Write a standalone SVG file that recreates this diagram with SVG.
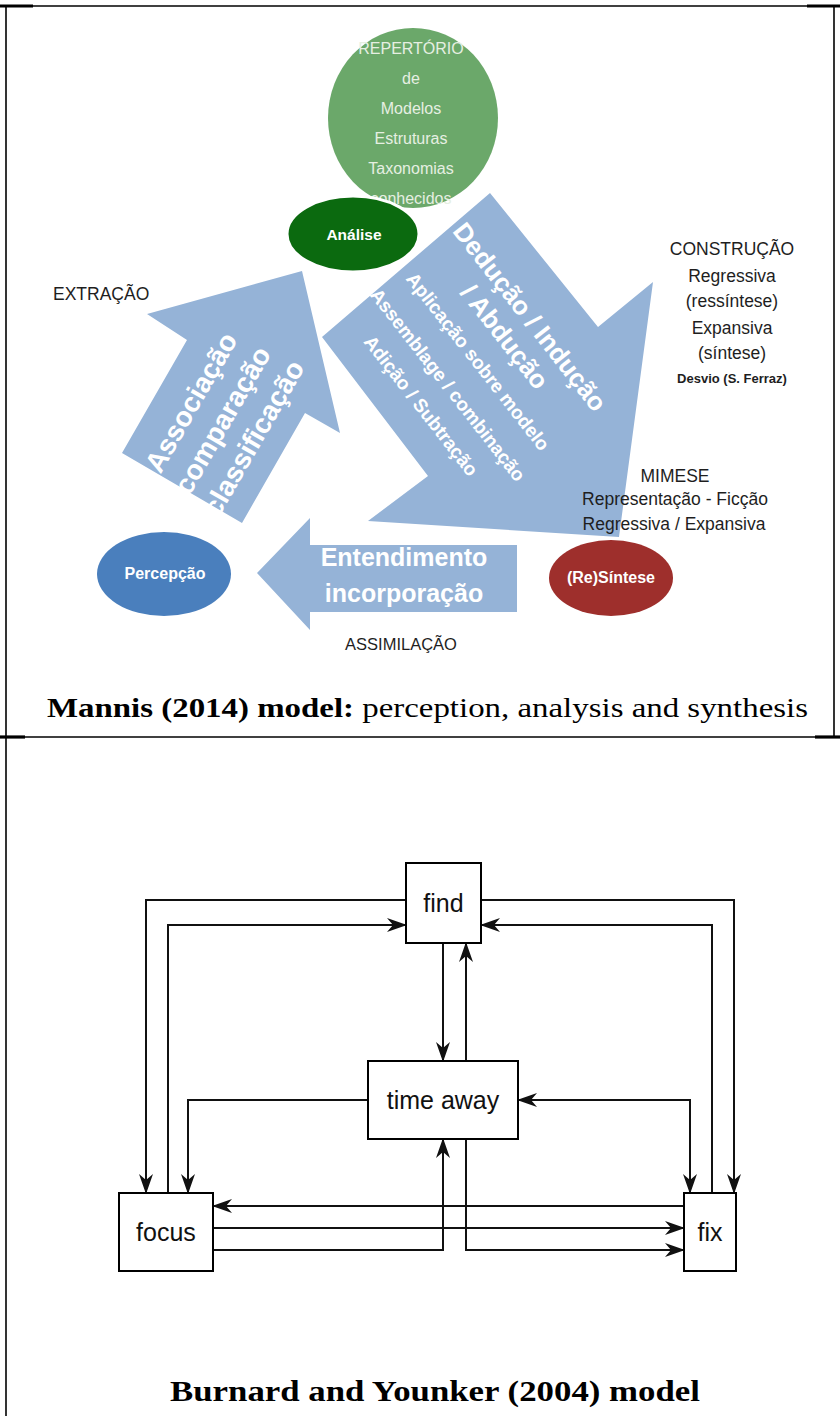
<svg xmlns="http://www.w3.org/2000/svg" width="840" height="1416" viewBox="0 0 840 1416">
<defs>
<style>
.frame{stroke:#000;stroke-width:1.6;fill:none}
.stub{stroke:#000;stroke-width:3.2}
.blue{fill:#95b3d7}
.lbl{font-family:"Liberation Sans",Arial,sans-serif;fill:#1e1e1e;font-size:17.5px;text-anchor:middle}
.wt{font-family:"Liberation Sans",Arial,sans-serif;fill:#ffffff;font-weight:bold;text-anchor:middle}
.gt{font-family:"Liberation Sans",Arial,sans-serif;fill:#e6efe2;font-size:16px;text-anchor:middle}
.cap{font-family:"Liberation Serif","Times New Roman",serif;fill:#000;font-size:28px}
.box{fill:#fff;stroke:#000;stroke-width:2}
.bt{font-family:"Liberation Sans",Arial,sans-serif;font-size:25px;fill:#111;text-anchor:middle}
.ln{fill:none;stroke:#111;stroke-width:2;marker-end:url(#ah)}
</style>
<marker id="ah" viewBox="0 0 20 14" refX="19" refY="7" markerWidth="20" markerHeight="14" markerUnits="userSpaceOnUse" orient="auto-start-reverse">
<path d="M0,0 L20,7 L0,14 L6,7 z" fill="#111"/>
</marker>
</defs>
<rect width="840" height="1416" fill="#fff"/>

<g id="frame">
<line class="frame" x1="6" y1="6" x2="834" y2="6"/>
<line class="frame" x1="6" y1="6" x2="6" y2="1416"/>
<line class="frame" x1="834" y1="6" x2="834" y2="737"/>
<line class="frame" x1="6" y1="737" x2="834" y2="737"/>
<line class="stub" x1="0" y1="6" x2="33" y2="6"/>
<line class="stub" x1="807" y1="6" x2="840" y2="6"/>
<line class="stub" x1="0" y1="737" x2="25" y2="737"/>
<line class="stub" x1="815" y1="737" x2="840" y2="737"/>
</g>

<g id="arrows-top">
<polygon id="arrow-extracao" class="blue" points="122,453 187,340 147,314 302,271 340,433 305,413 242,523"/>
<polygon id="arrow-construcao" class="blue" points="490,193 598,327 653,282 619,537 368,521 428,476 322,337"/>
<polygon id="arrow-assimilacao" class="blue" points="257,573 310,518 310,545 517,545 517,612 310,612 310,630"/>
</g>

<g id="repertorio">
<ellipse cx="413" cy="118" rx="85" ry="90" fill="#6ba86a"/>
<text class="gt" x="411" y="54">REPERTÓRIO</text>
<text class="gt" x="411" y="84">de</text>
<text class="gt" x="411" y="114">Modelos</text>
<text class="gt" x="411" y="144">Estruturas</text>
<text class="gt" x="411" y="174">Taxonomias</text>
<text class="gt" x="411" y="204">conhecidos</text>
</g>

<g id="analise">
<ellipse cx="353" cy="234" rx="66" ry="38" fill="#0b6a0f" stroke="#fff" stroke-width="3"/>
<text class="wt" x="354" y="240" font-size="15.5">Análise</text>
</g>

<g id="percepcao">
<ellipse cx="164" cy="574" rx="67" ry="42" fill="#4a7fbd"/>
<text class="wt" x="165" y="579" font-size="16">Percepção</text>
</g>

<g id="resintese">
<ellipse cx="611" cy="578" rx="62" ry="38" fill="#9e2f2c"/>
<text class="wt" x="611" y="583" font-size="16">(Re)Síntese</text>
</g>

<g id="arrow-texts">
<g transform="translate(222,420) rotate(-60)">
<text class="wt" x="0" y="-26" font-size="28">Associação</text>
<text class="wt" x="0" y="10" font-size="28">comparação</text>
<text class="wt" x="0" y="46" font-size="28">classificação</text>
</g>
<g transform="translate(530,317) rotate(52)">
<text class="wt" x="0" y="9" font-size="26">Dedução / Indução</text>
<text class="wt" x="0" y="41" font-size="26">/ Abdução</text>
<text class="wt" x="3" y="75" font-size="19">Aplicação sobre modelo</text>
<text class="wt" x="3" y="113" font-size="19">Assemblage / combinação</text>
<text class="wt" x="3" y="147" font-size="19">Adição / Subtração</text>
</g>
<text class="wt" x="404" y="566" font-size="25">Entendimento</text>
<text class="wt" x="404" y="602" font-size="25">incorporação</text>
</g>

<g id="labels">
<text class="lbl" x="53" y="300" style="text-anchor:start">EXTRAÇÃO</text>
<text class="lbl" x="732" y="255">CONSTRUÇÃO</text>
<text class="lbl" x="732" y="282">Regressiva</text>
<text class="lbl" x="732" y="307">(ressíntese)</text>
<text class="lbl" x="732" y="334">Expansiva</text>
<text class="lbl" x="732" y="359">(síntese)</text>
<text class="lbl" x="732" y="383" font-weight="bold" style="font-size:13px">Desvio (S. Ferraz)</text>
<text class="lbl" x="675" y="482">MIMESE</text>
<text class="lbl" x="675" y="505">Representação - Ficção</text>
<text class="lbl" x="674" y="530">Regressiva / Expansiva</text>
<text class="lbl" x="401" y="650" style="font-size:16.5px">ASSIMILAÇÃO</text>
</g>

<g id="caption1">
<text class="cap" x="47" y="717" textLength="761" lengthAdjust="spacingAndGlyphs"><tspan font-weight="bold">Mannis (2014) model:</tspan> perception, analysis and synthesis</text>
</g>

<g id="connectors">
<path class="ln" d="M406,900 H146 V1193"/>
<path class="ln" d="M168,1193 V925 H406"/>
<path class="ln" d="M481,900 H734 V1193"/>
<path class="ln" d="M712,1193 V925 H481"/>
<path class="ln" d="M443,943 V1061"/>
<path class="ln" d="M466,1061 V943"/>
<path class="ln" d="M368,1100 H188 V1193"/>
<path class="ln" d="M518,1100 H690 V1193" marker-start="url(#ah)"/>
<path class="ln" d="M684,1206 H213"/>
<path class="ln" d="M213,1228 H684"/>
<path class="ln" d="M213,1250 H443 V1139"/>
<path class="ln" d="M466,1139 V1250 H684"/>
</g>

<g id="find">
<rect class="box" x="406" y="863" width="75" height="80"/>
<text class="bt" x="443.5" y="912">find</text>
</g>
<g id="time-away">
<rect class="box" x="368" y="1061" width="150" height="78"/>
<text class="bt" x="443" y="1109">time away</text>
</g>
<g id="focus">
<rect class="box" x="119" y="1193" width="94" height="78"/>
<text class="bt" x="166" y="1241">focus</text>
</g>
<g id="fix">
<rect class="box" x="684" y="1193" width="52" height="78"/>
<text class="bt" x="710" y="1241">fix</text>
</g>

<g id="caption2">
<text class="cap" x="170" y="1401" font-weight="bold" style="font-size:29px" textLength="530" lengthAdjust="spacingAndGlyphs">Burnard and Younker (2004) model</text>
</g>
</svg>
